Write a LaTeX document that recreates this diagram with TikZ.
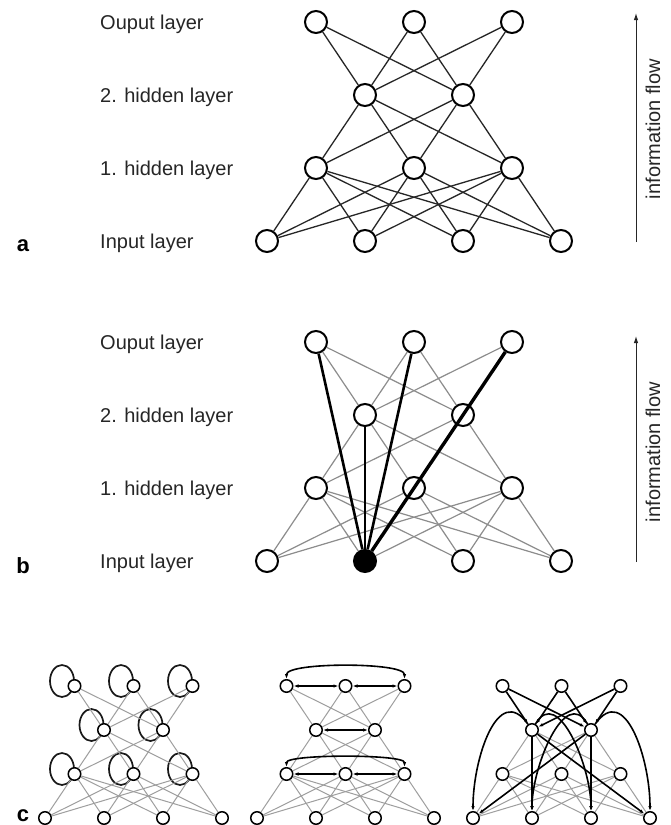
\documentclass[tikz,border=0pt]{standalone}
\usepackage{fontspec}
\setmainfont{Liberation Sans}
\usetikzlibrary{arrows.meta,backgrounds}
\begin{document}
\begin{tikzpicture}[x=1pt,y=1pt,
  big/.style={circle,draw,line width=2pt,minimum size=22pt,inner sep=0pt,fill=white},
  bigfull/.style={big,fill=black},
  sm/.style={circle,draw,line width=1.5pt,minimum size=12.5pt,inner sep=0pt,fill=white},
  ea/.style={line width=1.3pt,black!85},
  eb/.style={line width=1.2pt,black!45},
  ebk/.style={line width=2.6pt,black},
  ebkk/.style={line width=3.4pt,black},
  ec/.style={line width=1pt,black!38},
  cb/.style={line width=1.6pt,black},
  cba/.style={cb,-{Latex[length=5pt,width=3.5pt]}},
  cdbl/.style={cb,{Latex[length=5pt,width=3.5pt]}-{Latex[length=5pt,width=3.5pt]}},
  loopst/.style={line width=1.7pt,black!90},
  lab/.style={anchor=base west,font=\fontsize{20}{24}\selectfont,text=black!85,inner sep=0pt},
  plet/.style={anchor=base,font=\fontsize{22}{24}\selectfont\bfseries,inner sep=0pt},
  flow/.style={rotate=90,font=\fontsize{20}{24}\selectfont,text=black!85,inner sep=0pt},
  farrow/.style={line width=1pt,black!85,-{Latex[length=7pt,width=4.5pt]}}
]
\useasboundingbox (0,0) rectangle (671,-825);

% ---------- panel a ----------
\foreach \i/\x in {1/316,2/414,3/512} \node[big] (ao\i) at (\x,-22) {};
\foreach \i/\x in {1/365,2/463} \node[big] (ah\i) at (\x,-95) {};
\foreach \i/\x in {1/316,2/414,3/512} \node[big] (ag\i) at (\x,-168) {};
\foreach \i/\x in {1/267,2/365,3/463,4/561} \node[big] (ai\i) at (\x,-241) {};
\foreach \a in {1,2,3} \foreach \b in {1,2} \draw[ea] (ao\a) -- (ah\b);
\foreach \a in {1,2} \foreach \b in {1,2,3} \draw[ea] (ah\a) -- (ag\b);
\foreach \a in {1,2,3} \foreach \b in {1,2,3,4} \draw[ea] (ag\a) -- (ai\b);
\node[lab] (la1) at (100,-29) {Ouput layer};
\node[lab] (la2) at (100,-102) {2. hidden layer};
\node[lab] (la3) at (100,-175) {1. hidden layer};
\node[lab] (la4) at (100,-248) {Input layer};
\node[plet] (pa) at (23,-251) {a};
\coordinate (fa1) at (636,-242);
\coordinate (fa2) at (636,-13);
\draw[farrow] (fa1) -- (fa2);
\node[flow] (fla) at (653,-129) {information flow};

% ---------- panel b ----------
\foreach \i/\x in {1/316,2/414,3/512} \node[big] (bo\i) at (\x,-342) {};
\foreach \i/\x in {1/365,2/463} \node[big] (bh\i) at (\x,-415) {};
\foreach \i/\x in {1/316,2/414,3/512} \node[big] (bg\i) at (\x,-488) {};
\foreach \i/\x in {1/267,3/463,4/561} \node[big] (bi\i) at (\x,-561) {};
\node[bigfull] (bi2) at (365,-561) {};
\foreach \a in {1,2,3} \foreach \b in {1,2} \draw[eb] (bo\a) -- (bh\b);
\foreach \a in {1,2} \foreach \b in {1,2,3} \draw[eb] (bh\a) -- (bg\b);
\foreach \a in {1,2,3} \foreach \b in {1,2,3,4} \draw[eb] (bg\a) -- (bi\b);
\draw[ebk] (bi2) -- (bo1);
\draw[ebk] (bi2) -- (bo2);
\draw[ebk] (bi2) -- (bh1);
\draw[ebkk] (bi2) -- (bo3);
\node[lab] (lb1) at (100,-349) {Ouput layer};
\node[lab] (lb2) at (100,-422) {2. hidden layer};
\node[lab] (lb3) at (100,-495) {1. hidden layer};
\node[lab] (lb4) at (100,-568) {Input layer};
\node[plet] (pb) at (23,-573) {b};
\coordinate (fb1) at (636,-562);
\coordinate (fb2) at (636,-336);
\draw[farrow] (fb1) -- (fb2);
\node[flow] (flb) at (653,-452) {information flow};

% ---------- panel c ----------
\foreach \p/\x in {L/45,M/257,R/473} {
  \node[sm] (\p o1) at (\x+29.5,-686) {};
  \node[sm] (\p o2) at (\x+88.5,-686) {};
  \node[sm] (\p o3) at (\x+147.5,-686) {};
  \node[sm] (\p h1) at (\x+59,-730) {};
  \node[sm] (\p h2) at (\x+118,-730) {};
  \node[sm] (\p g1) at (\x+29.5,-774) {};
  \node[sm] (\p g2) at (\x+88.5,-774) {};
  \node[sm] (\p g3) at (\x+147.5,-774) {};
  \node[sm] (\p i1) at (\x,-818) {};
  \node[sm] (\p i2) at (\x+59,-818) {};
  \node[sm] (\p i3) at (\x+118,-818) {};
  \node[sm] (\p i4) at (\x+177,-818) {};
  \foreach \a in {1,2} \foreach \b in {1,2,3} \draw[ec] (\p h\a) -- (\p g\b);
  \foreach \a in {1,2,3} \foreach \b in {1,2,3,4} \draw[ec] (\p g\a) -- (\p i\b);
}
\foreach \p in {L,M} \foreach \a in {1,2,3} \foreach \b in {1,2} \draw[ec] (\p o\a) -- (\p h\b);

% left: self loops (behind the nodes)
\begin{scope}[on background layer]
\fill[white] (0,0) rectangle (671,-825);
\foreach \n in {Lo1,Lo2,Lo3,Lh1,Lh2,Lg1,Lg2,Lg3}
  \draw[loopst] ([shift={(-12.5,5)}]\n.center) ellipse [x radius=12, y radius=16];
\end{scope}

% middle: lateral connections
\draw[cdbl] (Mo1) -- (Mo2);
\draw[cdbl] (Mo2) -- (Mo3);
\draw[cdbl] (Mh1) -- (Mh2);
\draw[cdbl] (Mg1) -- (Mg2);
\draw[cdbl] (Mg2) -- (Mg3);
\draw[cdbl] (Mo1.north) .. controls +(0,17) and +(0,17) .. (Mo3.north);
\draw[cdbl] (Mg1.north) .. controls +(0,13) and +(0,13) .. (Mg3.north);

% right: feedback connections
\foreach \a in {1,2,3} \foreach \b in {1,2} \draw[cba] (Ro\a) -- (Rh\b);
\draw[cba] (Rh1) -- (Ri2);
\draw[cba] (Rh2) -- (Ri3);
\draw[cba] (Rh1) -- (Ri4);
\draw[cba] (Rh2) -- (Ri1);
\draw[cba] (Rh1) to[out=125,in=90,looseness=1.3] (Ri1);
\draw[cba] (Rh2) to[out=55,in=90,looseness=1.3] (Ri4);
\draw[cba] (Rh1) to[out=60,in=90,looseness=1.1] (Ri3);
\draw[cba] (Rh2) to[out=120,in=90,looseness=1.1] (Ri2);

\node[plet] (pc) at (23,-821) {c};
\end{tikzpicture}
\end{document}
